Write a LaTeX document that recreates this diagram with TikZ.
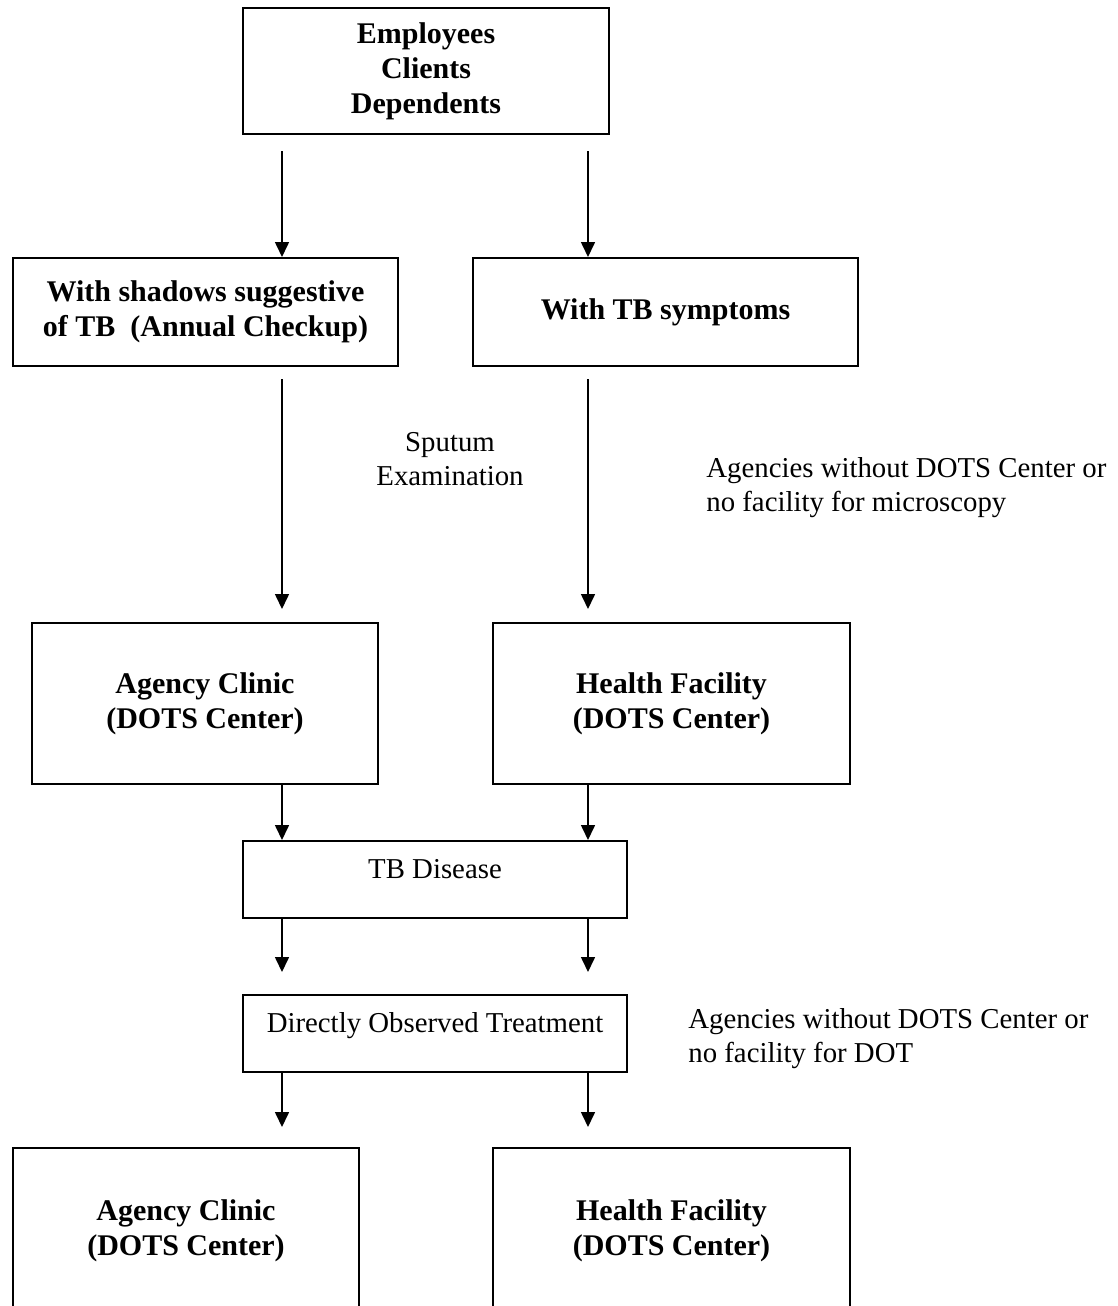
\documentclass[tikz,border=0pt]{standalone}
\usepackage{fontspec}
\setmainfont{Liberation Serif}
\usetikzlibrary{arrows.meta}

\begin{document}
\begin{tikzpicture}[x=0.5pt, y=-0.5pt]
 \tikzstyle{every node}=[font=\fontsize{14.4}{17}\selectfont, align=center, inner sep=0pt]
 \tikzstyle{box}=[draw, line width=1pt]
 \tikzstyle{bbox}=[box, font=\fontsize{15}{17.5}\selectfont\bfseries]
 \tikzstyle{topped}=[text height=11pt, text depth=12pt]
 \tikzstyle{arr}=[line width=0.8pt, -{Triangle[width=7pt,length=7.5pt]}]
 \clip (0,0) rectangle (1118,1306);
 \node[bbox, minimum width=183pt, minimum height=63pt] (emp) at (426,71) {Employees\\Clients\\Dependents};
 \node[bbox, minimum width=192.5pt, minimum height=54pt] (shad) at (205.5,312) {With shadows suggestive\\of TB\ \ (Annual Checkup)};
 \node[bbox, minimum width=192.5pt, minimum height=54pt] (symp) at (665.5,312) {With TB symptoms};
 \node[bbox, minimum width=173pt, minimum height=80.5pt] (clin) at (205,703.5) {Agency Clinic\\(DOTS Center)};
 \node[bbox, minimum width=178.5pt, minimum height=80.5pt] (fac) at (671.5,703.5) {Health Facility\\(DOTS Center)};
 \node[box, topped, minimum width=192pt, minimum height=38.5pt] (tbd) at (435,879.5) {TB Disease};
 \node[box, topped, minimum width=192pt, minimum height=38.5pt] (dot) at (435,1033.5) {Directly Observed Treatment};
 \node[bbox, minimum width=173pt, minimum height=83pt] (clin2) at (186,1231) {Agency Clinic\\(DOTS Center)};
 \node[bbox, minimum width=178.5pt, minimum height=83pt] (fac2) at (671.5,1231) {Health Facility\\(DOTS Center)};

 \node (sput) at (450,459) {Sputum\\Examination};
 \node[anchor=west, align=left] (nomic) at (706,488) {Agencies without DOTS Center or\\no facility for microscopy};
 \node[anchor=west, align=left] (nodot) at (688,1039) {Agencies without DOTS Center or\\no facility for DOT};

 \coordinate (lx) at (282,0);
 \coordinate (rx) at (588,0);
 \draw[arr, shorten <=8pt] (emp.south -| lx) -- (shad.north -| lx);
 \draw[arr, shorten <=8pt] (emp.south -| rx) -- (symp.north -| rx);
 \draw[arr, shorten <=6pt, shorten >=6.5pt] (shad.south -| lx) -- (clin.north -| lx);
 \draw[arr, shorten <=6pt, shorten >=6.5pt] (symp.south -| rx) -- (fac.north -| rx);
 \draw[arr] (clin.south -| lx) -- (tbd.north -| lx);
 \draw[arr] (fac.south -| rx) -- (tbd.north -| rx);
 \draw[arr, shorten >=11pt] (tbd.south -| lx) -- (dot.north -| lx);
 \draw[arr, shorten >=11pt] (tbd.south -| rx) -- (dot.north -| rx);
 \draw[arr, shorten >=10pt] (dot.south -| lx) -- (clin2.north -| lx);
 \draw[arr, shorten >=10pt] (dot.south -| rx) -- (fac2.north -| rx);
\end{tikzpicture}
\end{document}
